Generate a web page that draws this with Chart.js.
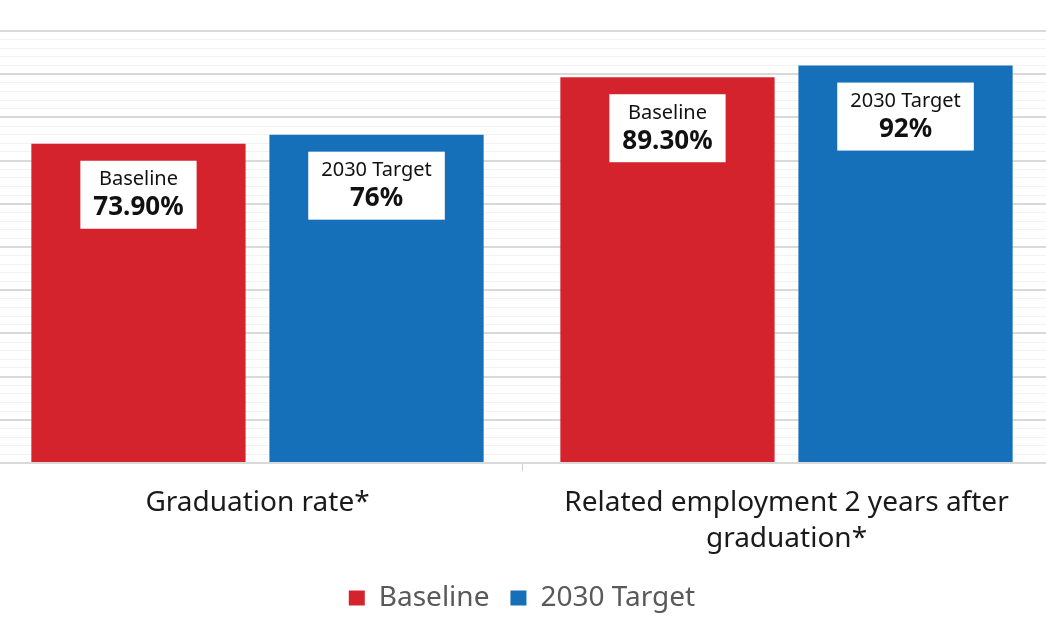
<!DOCTYPE html>
<html>
<head>
<meta charset='utf-8'>
<script src='https://cdn.jsdelivr.net/npm/chart.js@4/dist/chart.umd.min.js'></script>
<style>
	html, body { margin:0; padding:0; background:#fff; overflow:hidden }
	.graph-wrap { position:absolute; left:-7px; top:0; width:1058px; height:642px }
</style>
</head>
<body>
<div class='graph-wrap'><canvas id='goals_graph'></canvas></div>
<script>
const categories = [['Graduation rate*'], ['Related employment 2 years after', 'graduation*']]
const seriesNames = ['Baseline', '2030 Target']
const baselineValues = [73.9, 89.3]
const targetValues = [76, 92]
const baselineText = ['73.90%', '89.30%']
const targetText = ['76%', '92%']

const RED = '#d4232c'
const BLUE = '#1570b9'
const FONT = "'Noto Sans', sans-serif"

// white boxes with series name and value near the top of each bar
const boxLabels = {
	id:'boxLabels',
	afterDatasetsDraw(chart){
		const ctx = chart.ctx
		const texts = [baselineText, targetText]
		chart.data.datasets.forEach((ds, di) => {
			const meta = chart.getDatasetMeta(di)
			meta.data.forEach((bar, i) => {
				const name = ds.label
				const value = texts[di][i]
				ctx.save()
				ctx.font = `400 20px ${FONT}`
				const w1 = ctx.measureText(name).width
				ctx.font = `700 26px ${FONT}`
				const w2 = ctx.measureText(value).width
				const w = Math.max(w1, w2) + 26
				const top = bar.y + 17
				ctx.fillStyle = '#fff'
				ctx.fillRect(bar.x - w / 2, top, w, 68)
				ctx.fillStyle = '#111'
				ctx.textAlign = 'center'
				ctx.textBaseline = 'middle'
				ctx.font = `400 20px ${FONT}`
				ctx.fillText(name, bar.x, top + 19)
				ctx.font = `700 26px ${FONT}`
				ctx.fillText(value, bar.x, top + 47)
				ctx.restore()
			})
		})
	}
}

const ctx = document.getElementById('goals_graph')
new Chart(ctx, {
	type:'bar',
	data:{
		labels:categories,
		datasets:[
			{
				label:seriesNames[0],
				data:baselineValues,
				backgroundColor:RED
			},
			{
				label:seriesNames[1],
				data:targetValues,
				backgroundColor:BLUE
			}
		]
	},
	options:{
		responsive:true,
		maintainAspectRatio:false,
		animation:false,
		categoryPercentage:0.9,
		barPercentage:0.9,
		layout:{ padding:{ top:31, left:0, right:0, bottom:20 } },
		plugins:{
			legend:{
				position:'bottom',
				labels:{
					font:{ family:FONT, size:28 },
					color:'#595959',
					boxWidth:16,
					boxHeight:15,
					padding:21
				}
			},
			tooltip:{ enabled:false }
		},
		scales:{
			x:{
				afterFit: scale => { scale.height = 100 },
				grid:{ drawOnChartArea:false, color:'#cfcfcf', tickLength:8 },
				border:{ color:'#d9d9d9', width:2 },
				ticks:{
					font:{ family:FONT, size:28, lineHeight:1.29 },
					color:'#1a1a1a',
					padding:14,
					maxRotation:0
				}
			},
			y:{
				min:0,
				max:100,
				ticks:{ display:false, stepSize:2 },
				border:{ display:false },
				grid:{
					drawTicks:false,
					color: c => c.tick.value % 10 === 0 ? '#d9d9d9' : '#f2f2f2',
					lineWidth: c => c.tick.value % 10 === 0 ? 2 : 1
				}
			}
		}
	},
	plugins:[boxLabels]
})
</script>
</body>
</html>
